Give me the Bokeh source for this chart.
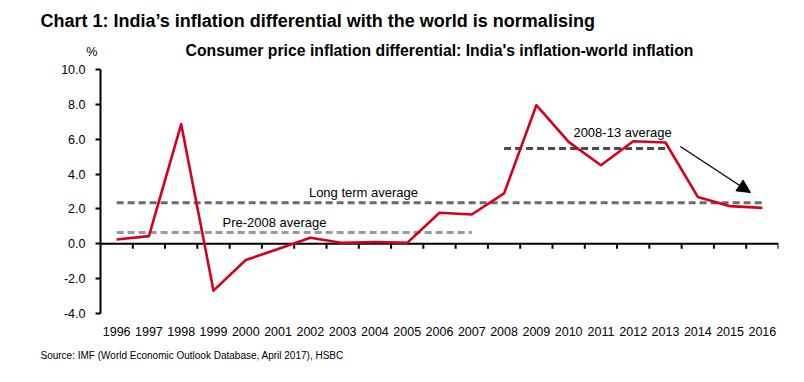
from bokeh.plotting import figure
from bokeh.models import (Range1d, LinearAxis, FixedTicker, PrintfTickFormatter,
                          Label, Arrow, NormalHead, Title)
from bokeh.embed import file_html
from bokeh.resources import INLINE

# ---- data ----
years = [1996, 1997, 1998, 1999, 2000, 2001, 2002, 2003, 2004, 2005, 2006,
         2007, 2008, 2009, 2010, 2011, 2012, 2013, 2014, 2015, 2016]
differential = [0.25, 0.44, 6.86, -2.69, -0.93, -0.30, 0.35, 0.05, 0.10, 0.05, 1.78,
                1.68, 2.89, 7.95, 5.85, 4.51, 5.88, 5.81, 2.69, 2.16, 2.06]
long_term_avg = 2.35
pre2008_avg = 0.65
avg_2008_13 = 5.47
y_ticks = [-4, -2, 0, 2, 4, 6, 8, 10]

x = list(range(len(years)))

SANS = "Liberation Sans"

p = figure(width=796, height=374, output_backend="svg", toolbar_location=None,
           x_range=Range1d(-0.5, len(years) - 0.5), y_range=Range1d(-4, 10),
           min_border_left=100, min_border_right=18, min_border_top=69,
           min_border_bottom=61, x_axis_location=None, y_axis_location=None)
p.outline_line_color = None
p.xgrid.visible = False
p.ygrid.visible = False
p.background_fill_color = "white"
p.border_fill_color = "white"

# y axis
yax = LinearAxis(ticker=FixedTicker(ticks=y_ticks),
                 formatter=PrintfTickFormatter(format="%.1f"))
yax.axis_line_color = "black"
yax.axis_line_width = 2
yax.major_tick_line_color = "black"
yax.major_tick_line_width = 2
yax.major_tick_in = 0
yax.major_tick_out = 5
yax.minor_tick_line_color = None
yax.major_label_standoff = 10
yax.major_label_text_font = SANS
yax.major_label_text_font_size = "12.5px"
yax.major_label_text_color = "black"
p.add_layout(yax, "left")

# x axis (labels only)
xax = LinearAxis(ticker=FixedTicker(ticks=x),
                 major_label_overrides={i: str(y) for i, y in zip(x, years)})
xax.axis_line_color = None
xax.major_tick_line_color = None
xax.minor_tick_line_color = None
xax.major_tick_out = 0
xax.major_tick_in = 0
xax.major_label_standoff = 13
xax.major_label_text_font = SANS
xax.major_label_text_font_size = "12.5px"
xax.major_label_text_color = "black"
p.add_layout(xax, "below")

# top axis: carries the "%" unit label and the chart subtitle
tax = LinearAxis(ticker=FixedTicker(ticks=[-0.5]),
                 major_label_overrides={-0.5: "%" + "\u00a0" * 5})
tax.axis_line_color = None
tax.major_tick_line_color = None
tax.minor_tick_line_color = None
tax.major_tick_out = 0
tax.major_tick_in = 0
tax.major_label_standoff = 11
tax.major_label_text_font = SANS
tax.major_label_text_font_size = "12.5px"
tax.major_label_text_color = "black"
tax.axis_label = "Consumer price inflation differential: India's inflation-world inflation"
tax.axis_label_text_font = SANS
tax.axis_label_text_font_size = "15.75px"
tax.axis_label_text_font_style = "bold"
tax.axis_label_text_color = "black"
tax.axis_label_standoff = -17
p.add_layout(tax, "above")

p.add_layout(Title(text="Chart 1: India\u2019s inflation differential with the world is normalising",
                   align="left", offset=-60, standoff=15, text_font=SANS,
                   text_font_size="18px", text_font_style="bold", text_color="black"),
             "above")
p.add_layout(Title(text="Source: IMF (World Economic Outlook Database, April 2017), HSBC",
                   align="left", offset=-60, standoff=18, text_font=SANS,
                   text_font_size="10px", text_font_style="normal", text_color="black"),
             "below")

# zero line with boundary ticks
p.line(x=[-0.5, len(years) - 0.5], y=[0, 0], line_color="black", line_width=2)
bounds = [i + 0.5 for i in x]
tick_len = 5 / 17.43
p.segment(x0=bounds, y0=[0] * len(bounds), x1=bounds, y1=[-tick_len] * len(bounds),
          line_color="black", line_width=2)

# average lines
i2007 = years.index(2007)
i2008 = years.index(2008)
i2013 = years.index(2013)
p.line(x=[x[0], x[-1]], y=[long_term_avg] * 2, line_color="#6b6b6b",
       line_width=3, line_dash="7 4")
p.line(x=[x[0], x[i2007]], y=[pre2008_avg] * 2, line_color="#9a9a9a",
       line_width=3, line_dash="7 4")
p.line(x=[x[i2008], x[i2013]], y=[avg_2008_13] * 2, line_color="#4a4a4a",
       line_width=3, line_dash="7 4")

# main series
p.line(x=x, y=differential, line_color="#d5001c", line_width=2.6, line_join="round")

# arrow
p.add_layout(Arrow(end=NormalHead(size=13, fill_color="black", line_color="black"),
                   x_start=17.46, y_start=5.58, x_end=19.63, y_end=2.94,
                   line_color="black", line_width=1.3))


def lab(text, xx, yy):
    p.add_layout(Label(x=xx, y=yy, text=text, text_font=SANS,
                       text_font_size="13px", text_align="center",
                       text_baseline="alphabetic", text_color="black"))


lab("Long term average", 7.645, 2.96)
lab("Pre-2008 average", 4.89, 1.24)
lab("2008-13 average", 15.67, 6.41)

open("out.html", "w").write(file_html(p, INLINE))
